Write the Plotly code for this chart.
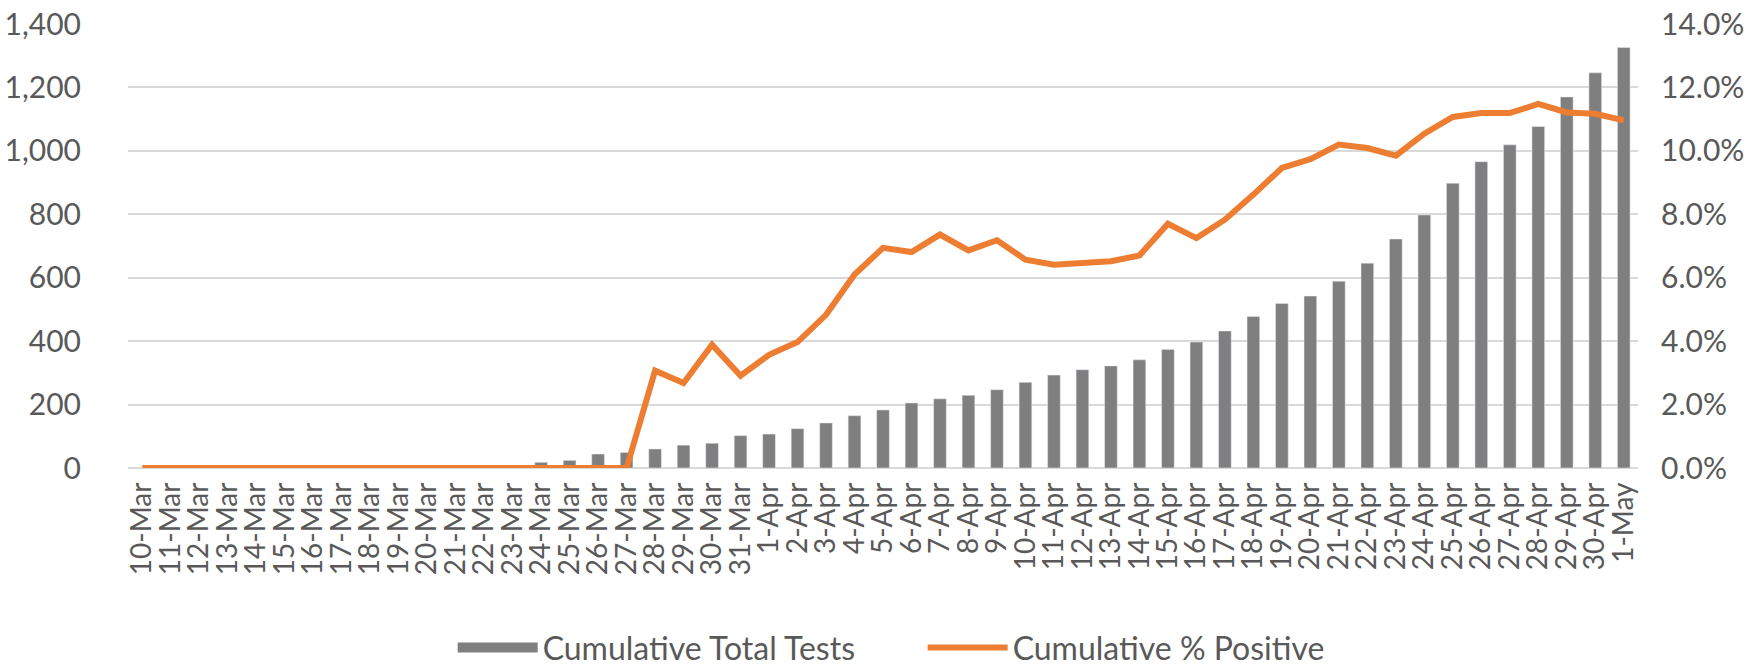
import plotly.graph_objects as go

# 日期（類別軸）
dates = ["10-Mar", "11-Mar", "12-Mar", "13-Mar", "14-Mar", "15-Mar", "16-Mar", "17-Mar",
         "18-Mar", "19-Mar", "20-Mar", "21-Mar", "22-Mar", "23-Mar", "24-Mar", "25-Mar",
         "26-Mar", "27-Mar", "28-Mar", "29-Mar", "30-Mar", "31-Mar",
         "1-Apr", "2-Apr", "3-Apr", "4-Apr", "5-Apr", "6-Apr", "7-Apr", "8-Apr", "9-Apr",
         "10-Apr", "11-Apr", "12-Apr", "13-Apr", "14-Apr", "15-Apr", "16-Apr", "17-Apr",
         "18-Apr", "19-Apr", "20-Apr", "21-Apr", "22-Apr", "23-Apr", "24-Apr", "25-Apr",
         "26-Apr", "27-Apr", "28-Apr", "29-Apr", "30-Apr", "1-May"]

# 累計檢測數
total_tests = [0, 0, 0, 0, 0, 0, 0, 0, 0, 0, 0, 0, 0, 0,
               18, 24, 44, 49,
               60, 72, 78, 102, 107, 124, 142, 165, 183, 205, 218, 229, 247, 270, 293, 310, 322, 341,
               374, 397, 432, 478, 519, 542, 589, 646, 722, 798, 898, 966, 1019, 1077, 1170, 1246, 1326]

# 累計陽性率
pct_positive = [0, 0, 0, 0, 0, 0, 0, 0, 0, 0, 0, 0, 0, 0, 0, 0, 0, 0,
                0.0307, 0.0268, 0.0389, 0.0291, 0.0357, 0.0397, 0.0483, 0.0610, 0.0694,
                0.0681, 0.0736, 0.0686, 0.0718, 0.0657, 0.0641, 0.0646, 0.0652, 0.0670,
                0.0770, 0.0725, 0.0783, 0.0862, 0.0946, 0.0974, 0.1020, 0.1009, 0.0985,
                0.1054, 0.1107, 0.1119, 0.1119, 0.1148, 0.1121, 0.1117, 0.1096]

left_ticks = [0, 200, 400, 600, 800, 1000, 1200, 1400]
right_ticks = [0, 0.02, 0.04, 0.06, 0.08, 0.10, 0.12, 0.14]

gray = "#7F7F7F"
orange = "#ED7D31"
text_color = "#595959"
grid_color = "#D9D9D9"

fig = go.Figure()

# 長條圖（圖例用下方的寬線條代替）
fig.add_trace(go.Bar(x=dates, y=total_tests, marker_color=gray, showlegend=False,
                     name="Cumulative Total Tests"))
# 折線圖，右側座標軸
fig.add_trace(go.Scatter(x=dates, y=pct_positive, mode="lines", yaxis="y2",
                         line=dict(color=orange, width=6), showlegend=False,
                         name="Cumulative % Positive"))

# 圖例項目
fig.add_trace(go.Scatter(x=[None], y=[None], mode="lines", line=dict(color=gray, width=20),
                         name="Cumulative Total Tests"))
fig.add_trace(go.Scatter(x=[None], y=[None], mode="lines", line=dict(color=orange, width=6),
                         name="Cumulative % Positive"))

fig.update_layout(
    width=1759, height=666,
    margin=dict(l=128, r=121, t=24, b=198, autoexpand=False),
    plot_bgcolor="white", paper_bgcolor="white",
    font=dict(family="Lato", size=30, color=text_color),
    bargap=0.555,
    xaxis=dict(type="category", tickmode="array", tickvals=dates, ticktext=dates,
               tickangle=-90, showgrid=False, showline=False, ticks="", automargin=False,
               range=[-0.5, len(dates) - 0.5], tickfont=dict(size=28), ticklabelstandoff=8),
    yaxis=dict(range=[0, 1400], tickvals=left_ticks, tickformat=",", showgrid=True,
               gridcolor=grid_color, gridwidth=1.5, zeroline=True, zerolinecolor=grid_color,
               zerolinewidth=1.5, showline=False, ticklabelstandoff=46, automargin=False),
    yaxis2=dict(range=[0, 0.14], tickvals=right_ticks, tickformat=".1%", overlaying="y",
                side="right", showgrid=False, zeroline=False, showline=False,
                ticklabelstandoff=22, automargin=False),
    legend=dict(orientation="h", x=0.215, xanchor="left", y=-0.405, yanchor="middle",
                itemwidth=80, entrywidth=375, font=dict(size=32, color=text_color)),
)

# 去掉頁面預設的 body 邊距，並隱藏工具列
fig.write_html("out.html", config={"displayModeBar": False},
               post_script="document.body.style.margin='0';")
